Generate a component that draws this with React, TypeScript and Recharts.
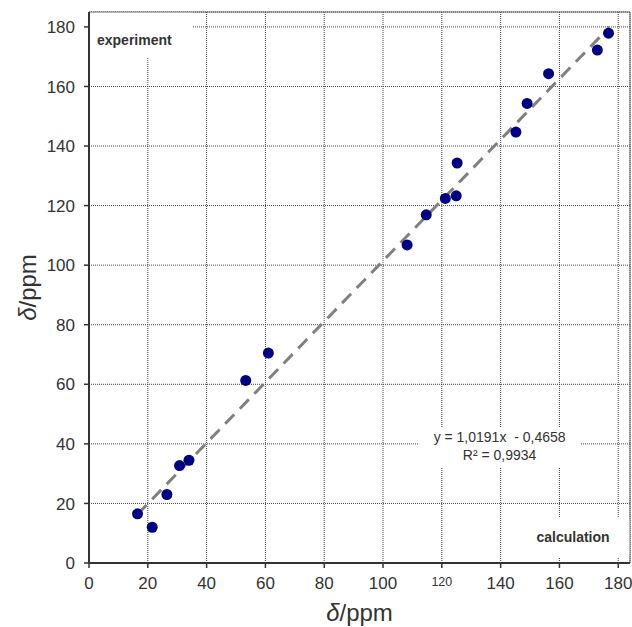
import React from 'react';
import {
  ScatterChart,
  Scatter,
  XAxis,
  YAxis,
  CartesianGrid,
  ReferenceLine,
  ReferenceArea,
} from 'recharts';

// calculated vs experimental chemical shifts (ppm)
const calcShift = [16.5, 21.5, 26.5, 30.8, 34, 53.3, 61, 108.2, 114.7, 121.2, 124.9, 125.2, 145.2, 149, 156.3, 172.9, 176.7];
const exptShift = [16.5, 12, 23, 32.7, 34.5, 61.3, 70.5, 106.8, 116.9, 122.4, 123.3, 134.3, 144.7, 154.3, 164.3, 172.2, 177.9];
const axisTicks = [0, 20, 40, 60, 80, 100, 120, 140, 160, 180];

// linear fit shown on the chart
const fitSlope = 1.0191;
const fitIntercept = -0.4658;
const fitRange = [16.5, 177];

const points = calcShift.map((x, i) => ({ x, y: exptShift[i] }));
const fitSegment = fitRange.map((x) => ({ x, y: fitSlope * x + fitIntercept }));

const FONT = 'Arial, "Liberation Sans", sans-serif';
const TEXT = '#333';

const Dot = (props: any) => <circle cx={props.cx} cy={props.cy} r={5.5} fill="#000080" />;

const XTick = ({ x, y, payload }: any) => (
  <text x={x} y={y} dy="0.71em" textAnchor="middle" fontFamily={FONT} fill={TEXT}
    fontSize={payload.value === 120 ? 12.5 : 17}>
    {payload.value}
  </text>
);

const YTick = ({ x, y, payload }: any) => (
  <text x={x} y={y} dy="0.36em" textAnchor="end" fontFamily={FONT} fill={TEXT} fontSize={17}>
    {payload.value}
  </text>
);

const XTitle = ({ viewBox }: any) => (
  <text x={viewBox.x + viewBox.width / 2} y={viewBox.y + 58} textAnchor="middle" fontFamily={FONT} fontSize={24} fill={TEXT}>
    <tspan fontStyle="italic">δ</tspan>/ppm
  </text>
);

const YTitle = ({ viewBox }: any) => {
  const cx = 27;
  const cy = viewBox.y + viewBox.height / 2;
  return (
    <text x={cx} y={cy} transform={`rotate(-90 ${cx} ${cy})`} textAnchor="middle" dominantBaseline="central"
      fontFamily={FONT} fontSize={24} fill={TEXT}>
      <tspan fontStyle="italic">δ</tspan>/ppm
    </text>
  );
};

const ExpLabel = ({ viewBox }: any) => (
  <text x={viewBox.x + 8} y={viewBox.y + 33} fontFamily={FONT} fontWeight="bold" fontSize={14} fill={TEXT}>
    experiment
  </text>
);

const CalcLabel = ({ viewBox }: any) => (
  <text x={viewBox.x + viewBox.width / 2 + 3} y={viewBox.y + viewBox.height / 2 + 5} textAnchor="middle"
    fontFamily={FONT} fontWeight="bold" fontSize={14} fill={TEXT}>
    calculation
  </text>
);

const FitLabel = ({ viewBox }: any) => {
  const cx = viewBox.x + viewBox.width / 2;
  const cy = viewBox.y + viewBox.height / 2;
  return (
    <text textAnchor="middle" fontFamily={FONT} fontSize={14} fill={TEXT}>
      <tspan x={cx} y={cy - 6}>{`y = ${String(fitSlope).replace('.', ',')}x\u00a0 - ${String(-fitIntercept).replace('.', ',')}`}</tspan>
      <tspan x={cx} y={cy + 12}>R² = 0,9934</tspan>
    </text>
  );
};

export default function App() {
  return (
    <div>
      <style>{'body{margin:0}'}</style>
      <ScatterChart width={632} height={627} margin={{ top: 12, right: 2, bottom: 0, left: 0 }}>
        <CartesianGrid stroke="#444" strokeDasharray="1 1" />
        <XAxis type="number" dataKey="x" domain={[0, 184]} ticks={axisTicks} height={64}
          axisLine={{ stroke: '#333', strokeWidth: 2 }} tickLine={{ stroke: '#333', strokeWidth: 1.5 }}
          tickSize={5} tickMargin={9} tick={<XTick />} label={<XTitle />} />
        <YAxis type="number" dataKey="y" domain={[0, 185]} ticks={axisTicks} width={89}
          axisLine={{ stroke: '#333', strokeWidth: 2 }} tickLine={{ stroke: '#333', strokeWidth: 1.5 }}
          tickSize={5} tickMargin={9} tick={<YTick />} label={<YTitle />} />
        <ReferenceArea x1={0} x2={35.4} y1={169.6} y2={185} fill="#fff" fillOpacity={1} stroke="none" label={<ExpLabel />} />
        <ReferenceArea x1={143.2} x2={184} y1={2} y2={15.4} fill="#fff" fillOpacity={1} stroke="none" label={<CalcLabel />} />
        <ReferenceArea x1={112.3} x2={167} y1={31.9} y2={45.3} fill="#fff" fillOpacity={1} stroke="none" label={<FitLabel />} />
        <ReferenceLine y={185} stroke="#666" strokeWidth={1} />
        <ReferenceLine x={184} stroke="#666" strokeWidth={1} />
        <ReferenceLine segment={fitSegment} stroke="#808080" strokeWidth={3} strokeDasharray="13 8" />
        <Scatter data={points} shape={<Dot />} isAnimationActive={false} />
      </ScatterChart>
    </div>
  );
}
